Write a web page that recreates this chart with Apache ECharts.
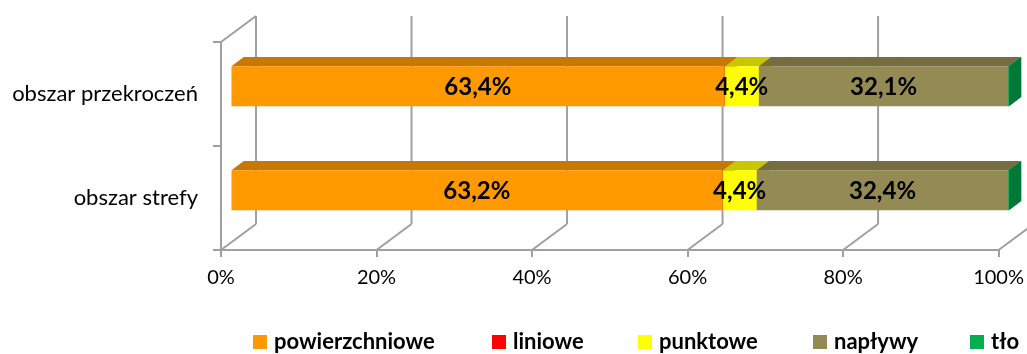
<!DOCTYPE html>
<html><head><meta charset="utf-8">
<script src="https://cdn.jsdelivr.net/npm/echarts@6/dist/echarts.min.js"></script>
<style>html,body{margin:0;padding:0;background:#fff}#c{width:1027px;height:354px}</style>
</head><body><div id="c"></div>
<script>
// ---- data ----
const categories = ['obszar przekroczeń', 'obszar strefy'];
const seriesNames = ['powierzchniowe', 'liniowe', 'punktowe', 'napływy', 'tło'];
const powierzchniowe = [63.4, 63.2];
const liniowe = [0.05, 0.05];
const punktowe = [4.4, 4.4];
const naplywy = [32.1, 32.4];
const tlo = [0.1, 0.1];
const xTicks = [0, 20, 40, 60, 80, 100];

// ---- style ----
const frontColors = ['#FF9900', '#FF0000', '#FFFF00', '#948A54', '#00B050'];
const topColors   = ['#C77800', '#C80000', '#C8C800', '#756C42', '#008A3E'];
const sideColors  = ['#B56D00', '#B00000', '#B0B000', '#665E3A', '#007838'];
const legendLefts = [253, 492, 638, 813, 970];
const DEPTH = [35, -26];       // full 3D depth vector (px)
const BAR_FRONT = 0.30, BAR_BACK = 0.65, BAR_H = 0.385;
const gridColor = '#A0A0A0';
const FONT = 'Lato, "Open Sans", sans-serif';

const values = [powierzchniowe, liniowe, punktowe, naplywy, tlo];
const totals = categories.map((c, i) => values.reduce((s, a) => s + a[i], 0));
const cum = categories.map(() => 0);
const segData = values.map((arr) => arr.map((v, i) => {
  const start = cum[i] / totals[i] * 100;
  cum[i] += v;
  const end = cum[i] / totals[i] * 100;
  return [i, start, end, v];
}));

function fmt(v) { return v.toFixed(1).replace('.', ',') + '%'; }

function makeBarSeries(k) {
  return {
    type: 'custom', name: seriesNames[k], z: 3, silent: true,
    emphasis: { disabled: true }, clip: false,
    itemStyle: { color: frontColors[k] },
    encode: { y: 0, x: [1, 2] },
    data: segData[k],
    renderItem: function (params, api) {
      const cat = api.value(0), s = api.value(1), e = api.value(2), v = api.value(3);
      const c0 = api.coord([s, cat]);
      const c1 = api.coord([e, cat]);
      const band = api.size([0, 1])[1];
      const h = band * BAR_H;
      const fx = DEPTH[0] * BAR_FRONT, fy = DEPTH[1] * BAR_FRONT;
      const dx = DEPTH[0] * (BAR_BACK - BAR_FRONT), dy = DEPTH[1] * (BAR_BACK - BAR_FRONT);
      const x0 = c0[0] + fx, x1 = c1[0] + fx;
      const yT = c0[1] + fy - h / 2, yB = c0[1] + fy + h / 2;
      const z2 = k * 3;
      const children = [
        { type: 'polygon', z2: z2, shape: { points: [[x1, yT], [x1, yB], [x1 + dx, yB + dy], [x1 + dx, yT + dy]] }, style: { fill: sideColors[k] } },
        { type: 'polygon', z2: z2 + 1, shape: { points: [[x0, yT], [x1, yT], [x1 + dx, yT + dy], [x0 + dx, yT + dy]] }, style: { fill: topColors[k] } },
        { type: 'rect', z2: z2 + 2, shape: { x: x0, y: yT, width: Math.max(x1 - x0, 0), height: h }, style: { fill: frontColors[k] } }
      ];
      if (v >= 1) {
        children.push({ type: 'text', z2: 100, style: { text: fmt(v), x: (x0 + x1) / 2, y: (yT + yB) / 2 + 1, align: 'center', verticalAlign: 'middle', font: 'bold 24px ' + FONT, fill: '#000' } });
      }
      return { type: 'group', children: children };
    }
  };
}

const wallSeries = {
  type: 'custom', name: '_walls', z: 1, silent: true, clip: false,
  emphasis: { disabled: true },
  encode: { x: 0, y: 1 },
  data: xTicks.map(t => [t, 0]),
  renderItem: function (params, api) {
    const cs = params.coordSys;
    const x = api.coord([api.value(0), 0])[0];
    const top = cs.y, bottom = cs.y + cs.height;
    const ls = { stroke: gridColor, lineWidth: 2 };
    const ch = [
      { type: 'line', shape: { x1: x, y1: bottom, x2: x + DEPTH[0], y2: bottom + DEPTH[1] }, style: ls },
      { type: 'line', shape: { x1: x + DEPTH[0], y1: top + DEPTH[1], x2: x + DEPTH[0], y2: bottom + DEPTH[1] }, style: ls }
    ];
    if (api.value(0) === xTicks[0]) {
      ch.push({ type: 'line', shape: { x1: x, y1: top, x2: x + DEPTH[0], y2: top + DEPTH[1] }, style: ls });
    }
    return { type: 'group', children: ch };
  }
};

const legends = seriesNames.map((n, k) => ({
  data: [n], left: legendLefts[k], top: 331, icon: 'rect', itemWidth: 14, itemHeight: 14,
  selectedMode: false, padding: 0,
  textStyle: { color: '#000', fontFamily: FONT, fontWeight: 'bold', fontSize: 22, padding: [0, 0, 0, 2] }
}));

const chart = echarts.init(document.getElementById('c'), null, { renderer: 'canvas' });
chart.setOption({
  animation: false,
  backgroundColor: '#fff',
  grid: { left: 221, right: 27, top: 42, bottom: 104, containLabel: false },
  xAxis: {
    type: 'value', min: 0, max: 100, interval: 20,
    axisLine: { show: true, lineStyle: { color: gridColor, width: 2 } },
    axisTick: { show: true, length: 7, lineStyle: { color: gridColor, width: 2 } },
    splitLine: { show: false },
    axisLabel: { formatter: '{value}%', margin: 18, color: '#000', fontFamily: FONT, fontSize: 20 }
  },
  yAxis: {
    type: 'category', data: categories, inverse: true,
    axisLine: { show: true, lineStyle: { color: gridColor, width: 2 } },
    axisTick: { show: true, length: 8, lineStyle: { color: gridColor, width: 2 } },
    axisLabel: { margin: 23, color: '#000', fontFamily: FONT, fontSize: 22, padding: [12, 0, 0, 0] }
  },
  legend: legends,
  series: [wallSeries].concat(seriesNames.map((n, k) => makeBarSeries(k)))
});
</script></body></html>
